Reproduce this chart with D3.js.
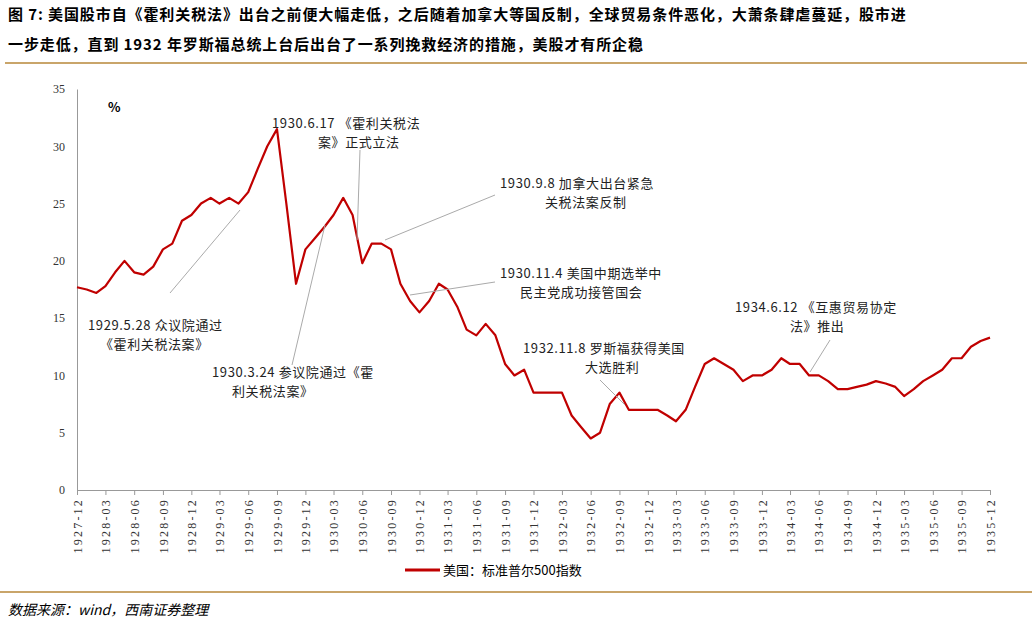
<!DOCTYPE html>
<html><head><meta charset="utf-8">
<script src="https://cdn.jsdelivr.net/npm/d3@7"></script>
<style>body{margin:0;background:#fff;font-family:"Noto Sans CJK SC",sans-serif}</style>
</head><body><div id="chart"></div>
<script>
// monthly S&P 500 values, starting 1927-12
var startMonth = "1927-12";
var values = [17.7,
  17.5,17.2,17.8,19,20,19,18.8,19.5,21,21.5,23.5,24,
  25,25.5,25,25.5,25,26,28,30,31.5,25,18,21,
  22,23,24,25.5,24,19.8,21.5,21.5,21,18,16.5,15.5,
  16.5,18,17.5,16,14,13.5,14.5,13.5,11,10,10.5,8.5,
  8.5,8.5,8.5,6.5,5.5,4.5,5,7.5,8.5,7,7,7,
  7,6.5,6,7,9,11,11.5,11,10.5,9.5,10,10,
  10.5,11.5,11,11,10,10,9.5,8.8,8.8,9,9.2,9.5,
  9.3,9,8.2,8.8,9.5,10,10.5,11.5,11.5,12.5,13,13.3];
var yTicks = [0,5,10,15,20,25,30,35];
var notes = [
  {lines:["1929.5.28 众议院通过","《霍利关税法案》"], x:88, y:330, dx:[0,12], from:[170,293], to:[240,210]},
  {lines:["1930.3.24 参议院通过《霍","利关税法案》"], x:212, y:377, dx:[0,20], from:[292,365], to:[325,225]},
  {lines:["1930.6.17 《霍利关税法","案》正式立法"], x:272, y:128, dx:[0,46], from:[360,150], to:[357,240]},
  {lines:["1930.9.8 加拿大出台紧急","关税法案反制"], x:500, y:188, dx:[0,45], from:[495,195], to:[385,240]},
  {lines:["1930.11.4 美国中期选举中","民主党成功接管国会"], x:500, y:278, dx:[0,20], from:[495,282], to:[410,295]},
  {lines:["1932.11.8 罗斯福获得美国","大选胜利"], x:523, y:353, dx:[0,62], from:[600,380], to:[625,405]},
  {lines:["1934.6.12 《互惠贸易协定","法》推出"], x:735, y:312, dx:[0,55], from:[830,340], to:[810,372]}
];

var parse = d3.timeParse("%Y-%m");
var t0 = parse(startMonth);
var data = values.map((v, i) => ({date: d3.timeMonth.offset(t0, i), v: v}));

var svg = d3.select("#chart").append("svg").attr("width", 1032).attr("height", 625);

svg.append("text").attr("x", 8).attr("y", 20).attr("font-size", 15).attr("font-weight", "bold").attr("letter-spacing", 0.9)
  .text("图 7: 美国股市自《霍利关税法》出台之前便大幅走低，之后随着加拿大等国反制，全球贸易条件恶化，大萧条肆虐蔓延，股市进");
svg.append("text").attr("x", 8).attr("y", 50).attr("font-size", 15).attr("font-weight", "bold").attr("letter-spacing", 0.9)
  .text("一步走低，直到 1932 年罗斯福总统上台后出台了一系列挽救经济的措施，美股才有所企稳");
svg.append("line").attr("x1", 5).attr("x2", 1027).attr("y1", 63).attr("y2", 63).attr("stroke", "#c9a56a").attr("stroke-width", 2);
svg.append("line").attr("x1", 0).attr("x2", 1032).attr("y1", 592).attr("y2", 592).attr("stroke", "#c9a56a").attr("stroke-width", 2);
svg.append("text").attr("x", 8).attr("y", 615).attr("font-size", 14).attr("font-style", "italic")
  .text("数据来源：wind，西南证券整理");

var x = d3.scaleTime().domain([t0, data[data.length - 1].date]).range([77, 990]);
var y = d3.scaleLinear().domain([0, 35]).range([490, 89]);

var ya = svg.append("g").attr("transform", "translate(77,0)")
  .call(d3.axisLeft(y).tickValues(yTicks).tickSize(0).tickPadding(12));
ya.select(".domain").attr("stroke", "#999");
ya.selectAll("text").attr("font-size", 12).attr("fill", "#333").attr("font-family", "Liberation Serif");

var xt = d3.timeMonth.range(t0, d3.timeMonth.offset(data[data.length - 1].date, 1), 3);
var xa = svg.append("g").attr("transform", "translate(0,490)")
  .call(d3.axisBottom(x).tickValues(xt).tickSize(5).tickFormat(d3.timeFormat("%Y-%m")));
xa.select(".domain").attr("stroke", "#999");
xa.selectAll("line").attr("stroke", "#999");
xa.selectAll(".tick text").attr("font-size", 12).attr("fill", "#333").attr("font-family", "Liberation Serif")
  .attr("letter-spacing", 2.2).attr("text-anchor", "end")
  .attr("transform", "rotate(-90)").attr("x", -8).attr("y", 0).attr("dy", "0.35em");

svg.append("text").attr("x", 108).attr("y", 112).attr("font-size", 13).attr("font-weight", "bold").text("%");

svg.append("path").datum(data).attr("fill", "none").attr("stroke", "#c00000").attr("stroke-width", 2.2)
  .attr("stroke-linejoin", "round")
  .attr("d", d3.line().x(d => x(d.date)).y(d => y(d.v)));

notes.forEach(n => {
  svg.append("line").attr("x1", n.from[0]).attr("y1", n.from[1]).attr("x2", n.to[0]).attr("y2", n.to[1])
    .attr("stroke", "#aaa").attr("stroke-width", 1);
  n.lines.forEach((l, i) => svg.append("text").attr("x", n.x + n.dx[i]).attr("y", n.y + i * 19)
    .attr("font-size", 13).attr("letter-spacing", 0.6).attr("fill", "#222").text(l));
});

svg.append("line").attr("x1", 405).attr("x2", 440).attr("y1", 570).attr("y2", 570).attr("stroke", "#c00000").attr("stroke-width", 3);
svg.append("text").attr("x", 443).attr("y", 575).attr("font-size", 13).text("美国：标准普尔500指数");
</script></body></html>
